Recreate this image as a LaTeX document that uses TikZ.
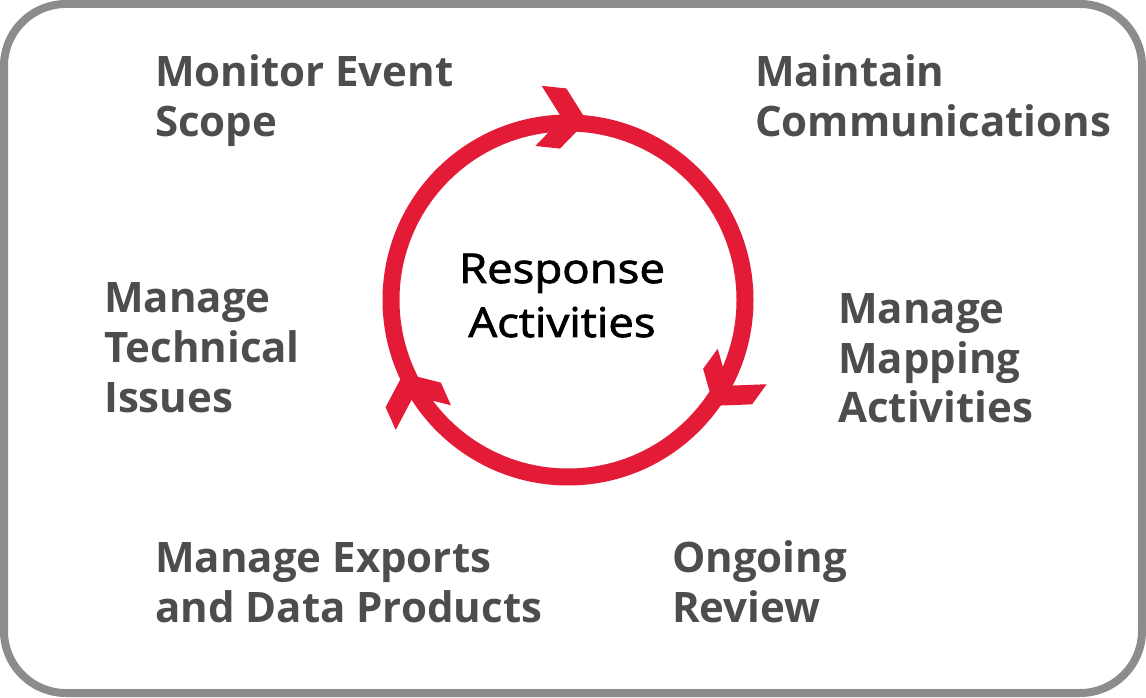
\documentclass[tikz,border=0pt]{standalone}
\usepackage{fontspec}
\setmainfont{Open Sans}
\newfontfamily\hubfont{Open Sans}[FakeStretch=1.11,FakeBold=2]
\usepackage{tikz}
\usetikzlibrary{calc}
\definecolor{cyclered}{RGB}{228,27,54}
\definecolor{taskgray}{RGB}{77,77,77}
\definecolor{framegray}{RGB}{140,140,140}

\begin{document}
\begin{tikzpicture}[x=1pt,y=1pt,
	task/.style={anchor=base west,align=left,inner sep=0pt,text=taskgray,font=\fontsize{42}{50}\selectfont\bfseries},
	chevron/.style={fill=cyclered}]
	\useasboundingbox (0,0) rectangle (1146,697);
	\draw[framegray,line width=8pt,rounded corners=62pt] (4,4) rectangle (1142,693);

	% the cycle
	\coordinate (hub) at (568,397);
	\draw[cyclered,line width=17pt] (hub) circle (177);
	\foreach \a in {84,-36,204}{
		\fill[chevron,shift={($(hub)+(\a:180)$)},rotate=\a-90,scale=1.08]
			(0,0) -- (-22,28) -- (-45,28) -- (-23,0) -- (-45,-28) -- (-22,-28) -- cycle;
	}
	\node (center)[anchor=base,align=center,inner sep=0pt,font=\hubfont\fontsize{41}{54}\selectfont] at (562,360) {Response\\Activities};

	% the activities (anchored at the baseline of the last line)
	\node (scope)[task] at (155,560) {Monitor Event\\Scope};
	\node (comms)[task] at (755,560) {Maintain\\Communications};
	\node (technical)[task] at (104,284) {Manage\\Technical\\Issues};
	\node (mapping)[task] at (838,274) {Manage\\Mapping\\Activities};
	\node (exports)[task] at (155,75) {Manage Exports\\and Data Products};
	\node (review)[task] at (672,75) {Ongoing\\Review};
\end{tikzpicture}
\end{document}
